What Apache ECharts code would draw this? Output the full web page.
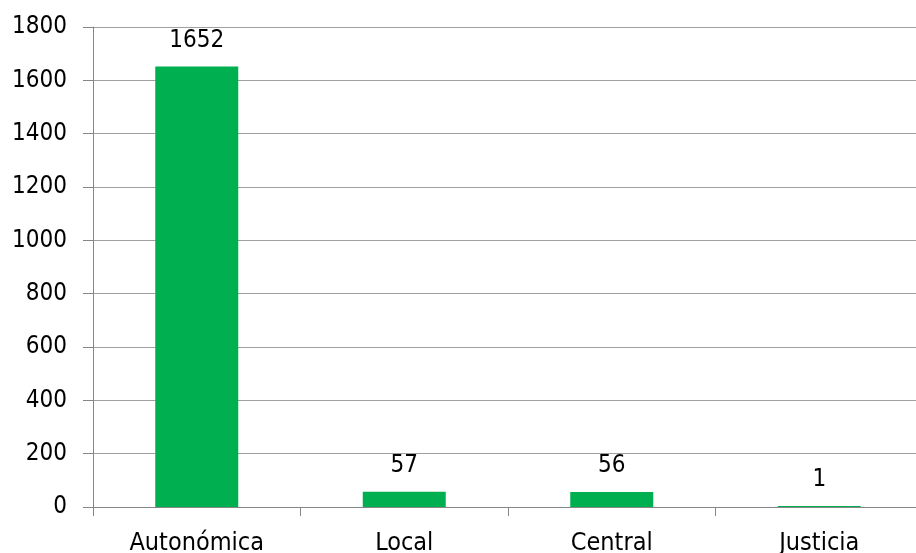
<!DOCTYPE html>
<html>
<head>
<meta charset="utf-8">
<script src="https://cdn.jsdelivr.net/npm/echarts@6/dist/echarts.min.js"></script>
<style>
  html, body { margin: 0; padding: 0; background: #fff; overflow: hidden; width: 916px; height: 553px; }
  #chart { width: 923px; height: 553px; }
</style>
</head>
<body>
<div id="chart"></div>
<script>
// Administrations and their counts
const categories = ['Autonómica', 'Local', 'Central', 'Justicia'];
const values = [1652, 57, 56, 1];

const font = '"DejaVu Sans Condensed", "DejaVu Sans", sans-serif';

const chart = echarts.init(document.getElementById('chart'));
chart.setOption({
  animation: false,
  grid: {
    left: 93, right: 0, top: 27, bottom: 46,
    containLabel: false,
    outerBoundsMode: 'none'
  },
  xAxis: {
    type: 'category',
    data: categories,
    axisLine: { lineStyle: { color: '#868686', width: 1 } },
    axisTick: { show: true, length: 9, lineStyle: { color: '#868686' } },
    axisLabel: { color: '#000', fontSize: 25, fontFamily: font, margin: 24 }
  },
  yAxis: {
    type: 'value',
    min: 0,
    max: 1800,
    interval: 200,
    axisLine: { show: true, lineStyle: { color: '#868686', width: 1 } },
    axisTick: { show: true, length: 10, lineStyle: { color: '#868686' } },
    splitLine: { lineStyle: { color: '#a0a0a0', width: 1 } },
    axisLabel: {
      color: '#000', fontSize: 24, fontFamily: font, margin: 26,
      formatter: v => String(v)
    }
  },
  series: [{
    type: 'bar',
    data: values,
    barWidth: '40%',
    barMinHeight: 1,
    itemStyle: { color: '#00B050' },
    label: {
      show: true,
      position: 'top',
      distance: 14,
      color: '#000',
      fontSize: 24,
      fontFamily: font
    }
  }]
});
</script>
</body>
</html>
